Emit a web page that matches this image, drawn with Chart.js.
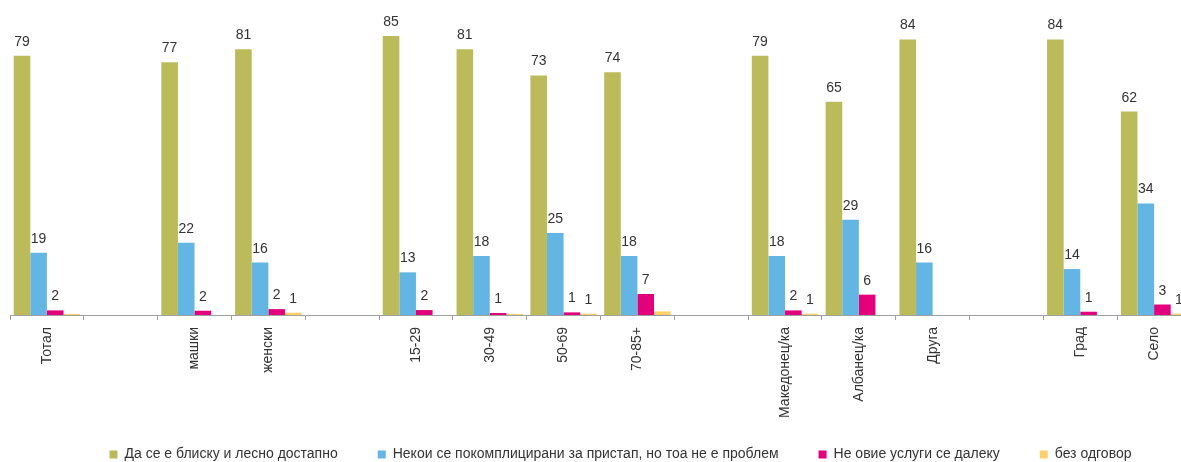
<!DOCTYPE html>
<html>
<head>
<meta charset="utf-8">
<script src="https://cdn.jsdelivr.net/npm/chart.js@4/dist/chart.umd.min.js"></script>
<style>
  html, body { margin: 0; padding: 0; background: #fff; overflow: hidden; }
  #wrap { position: relative; width: 1240px; height: 462px; }
</style>
</head>
<body>
<div id="wrap"><canvas id="c"></canvas></div>
<script>
const categories = ['Тотал', '', 'машки', 'женски', '', '15-29', '30-49', '50-69', '70-85+', '', 'Македонец/ка', 'Албанец/ка', 'Друга', '', 'Град', 'Село'];

const seriesNames = [
  'Да се е блиску и лесно достапно',
  'Некои се покомплицирани за пристап, но тоа не е проблем',
  'Не овие услуги се далеку',
  'без одговор'
];

const nearValues    = [79, null, 77, 81, null, 85, 81, 73, 74, null, 79, 65, 84, null, 84, 62];
const complexValues = [19, null, 22, 16, null, 13, 18, 25, 18, null, 18, 29, 16, null, 14, 34];
const farValues     = [1.4, null, 1.3, 1.8, null, 1.5, 0.6, 0.8, 6.4, null, 1.4, 6.2, null, null, 1.0, 3.2];
const noAnswerValues = [0.3, null, null, 0.7, null, null, 0.3, 0.4, 1.1, null, 0.4, null, null, null, null, 0.4];

const nearLabels    = ['79', '', '77', '81', '', '85', '81', '73', '74', '', '79', '65', '84', '', '84', '62'];
const complexLabels = ['19', '', '22', '16', '', '13', '18', '25', '18', '', '18', '29', '16', '', '14', '34'];
const farLabels     = ['2', '', '2', '2', '', '2', '1', '1', '7', '', '2', '6', '', '', '1', '3'];
const noAnswerLabels = ['', '', '', '1', '', '', '', '1', '', '', '1', '', '', '', '', '1'];

const seriesColors = ['#BBBB5B', '#63B6E3', '#E3007B', '#FFCF6B'];

const valueLabelPlugin = {
  id: 'valueLabels',
  afterLayout(chart) {
    // let the rotated category labels extend below the axis box without being clipped
    const xs = chart.scales.x;
    xs.bottom = chart.height;
  },
  afterDatasetsDraw(chart) {
    const ctx = chart.ctx;
    ctx.save();
    ctx.font = '14px "Liberation Sans", Arial, sans-serif';
    ctx.fillStyle = '#333333';
    ctx.textAlign = 'center';
    ctx.textBaseline = 'alphabetic';
    chart.data.datasets.forEach((ds, i) => {
      const meta = chart.getDatasetMeta(i);
      meta.data.forEach((bar, j) => {
        const t = ds.valueLabels[j];
        if (!t || ds.data[j] == null) return;
        ctx.fillText(t, bar.x, bar.y - 10);
      });
    });
    ctx.restore();
  }
};

const valueSets = [nearValues, complexValues, farValues, noAnswerValues];
const labelSets = [nearLabels, complexLabels, farLabels, noAnswerLabels];

new Chart(document.getElementById('c'), {
  type: 'bar',
  data: {
    labels: categories,
    datasets: seriesNames.map((name, i) => ({
      label: name,
      data: valueSets[i],
      valueLabels: labelSets[i],
      backgroundColor: seriesColors[i],
      borderWidth: 0,
      categoryPercentage: 0.9,
      barPercentage: 1.0
    }))
  },
  options: {
    responsive: true,
    maintainAspectRatio: false,
    animation: false,
    layout: { padding: { left: 10, right: 9, top: 0, bottom: 0 } },
    plugins: {
      tooltip: { enabled: false },
      legend: {
        position: 'bottom',
        maxHeight: 54.5,
        labels: {
          boxWidth: 8,
          boxHeight: 8,
          padding: 40,
          color: '#333333',
          font: { family: '"Liberation Sans", Arial, sans-serif', size: 14 }
        }
      }
    },
    scales: {
      x: {
        grid: {
          offset: true,
          drawOnChartArea: false,
          drawTicks: true,
          tickLength: 5,
          color: '#A0A0A0'
        },
        border: { display: true, color: '#A0A0A0', width: 1 },
        ticks: {
          autoSkip: false,
          maxRotation: 90,
          minRotation: 90,
          padding: 7,
          color: '#333333',
          font: { family: '"Liberation Sans", Arial, sans-serif', size: 14 }
        },
        afterFit(scale) { scale.height = 92.5; }
      },
      y: {
        position: 'right',
        min: 0,
        max: 96,
        grid: { display: false },
        border: { display: false },
        ticks: { display: false },
        afterFit(scale) { scale.width = 40; }
      }
    }
  },
  plugins: [valueLabelPlugin]
});
</script>
</body>
</html>
